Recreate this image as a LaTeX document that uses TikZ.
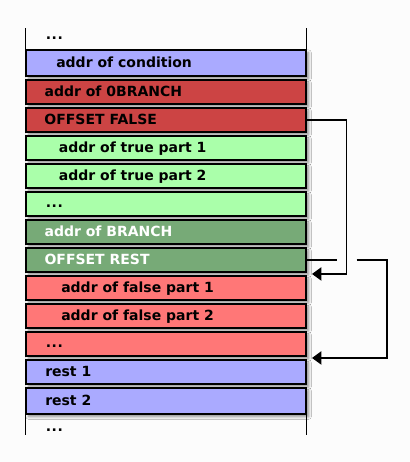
\documentclass[tikz,border=0pt]{standalone}
\usepackage{fontspec}
\setmainfont{DejaVu Sans}
\usetikzlibrary{arrows.meta,calc,shadows.blur}
\definecolor{cblue}{HTML}{AAAAFF}
\definecolor{cred}{HTML}{CC4444}
\definecolor{clgreen}{HTML}{AAFFAA}
\definecolor{cdgreen}{HTML}{77AA77}
\definecolor{cpink}{HTML}{FF7777}
\definecolor{bgcol}{HTML}{FCFCFC}
\newcommand{\mydots}{.\kern0.5pt.\kern0.5pt.}
\begin{document}
\begin{tikzpicture}[x=0.75pt,y=-0.75pt,
  cellbox/.style={draw=black, line width=1pt, anchor=north west, inner sep=0pt,
    minimum width=210pt, minimum height=18pt,
    blur shadow={shadow xshift=2pt, shadow yshift=-2pt, shadow blur radius=2pt, shadow blur steps=6, shadow opacity=45}},
  tallbox/.style={cellbox, minimum height=19.5pt},
  lbl/.style={anchor=base west, inner sep=0pt, font=\fontsize{10.5pt}{12pt}\bfseries},
  wlbl/.style={lbl, text=white},
  sideline/.style={line width=0.9pt},
  conn/.style={line width=0.8pt},
  tip/.style={-{Triangle[length=7pt,width=10pt]}}]
\fill[bgcol] (0,0) rectangle (410,462);
\useasboundingbox (0,0) rectangle (410,462);
% boxes
\node[tallbox, fill=cblue] (cond) at (25.3,49.3) {};
\node[cellbox, fill=cred] (b0) at (25.3,79.3) {};
\node[cellbox, fill=cred] (ofalse) at (25.3,107.3) {};
\node[cellbox, fill=clgreen] (t1) at (25.3,135.3) {};
\node[cellbox, fill=clgreen] (t2) at (25.3,163.3) {};
\node[cellbox, fill=clgreen] (tdots) at (25.3,191.3) {};
\node[cellbox, fill=cdgreen] (br) at (25.3,219.3) {};
\node[cellbox, fill=cdgreen] (orest) at (25.3,247.3) {};
\node[cellbox, fill=cpink] (f1) at (25.3,275.3) {};
\node[cellbox, fill=cpink] (f2) at (25.3,303.3) {};
\node[cellbox, fill=cpink] (fdots) at (25.3,331.3) {};
\node[cellbox, fill=cblue] (r1) at (25.3,359.3) {};
\node[tallbox, fill=cblue] (r2) at (25.3,387.3) {};
% open cells
\draw[sideline] (cond.north west) -- ++(0,-21);
\draw[sideline] (cond.north east) -- ++(0,-21);
\draw[sideline] (r2.south west) -- ++(0,20);
\draw[sideline] (r2.south east) -- ++(0,20);
% labels
\node[lbl] (ttop) at (45.5,39.5) {\mydots};
\node[lbl] (tcond) at (56,67.6) {addr of condition};
\node[lbl] (tb0) at (44.3,96.4) {addr of 0BRANCH};
\node[lbl] (tofalse) at (44.2,124.4) {OFFSET FALSE};
\node[lbl] (tt1) at (58.6,152.4) {addr of true part 1};
\node[lbl] (tt2) at (58.6,180.4) {addr of true part 2};
\node[lbl] (ttdots) at (45.5,207.4) {\mydots};
\node[wlbl] (tbr) at (44.3,236.4) {addr of BRANCH};
\node[wlbl] (torest) at (44.3,264.4) {OFFSET REST};
\node[lbl] (tf1) at (61,292.4) {addr of false part 1};
\node[lbl] (tf2) at (61,320.4) {addr of false part 2};
\node[lbl] (tfdots) at (45.5,347.4) {\mydots};
\node[lbl] (tr1) at (45,376.4) {rest 1};
\node[lbl] (tr2) at (45,405) {rest 2};
\node[lbl] (tbot) at (45.5,431.5) {\mydots};
% connectors
\coordinate (tgtA) at ($(orest.south east)!0.5!(f1.north east)+(5.4,0)$);
\coordinate (tgtB) at ($(fdots.south east)!0.5!(r1.north east)+(5.4,0)$);
\coordinate (gapL) at ($(orest.east)+(30.4,0)$);
\coordinate (gapR) at ($(orest.east)+(50,0)$);
\draw[conn, tip] (ofalse.east) -- ++(40,0) |- (tgtA);
\draw[conn] (orest.east) -- (gapL);
\draw[conn, tip] (gapR) -- ++(30.4,0) |- (tgtB);
\end{tikzpicture}
\end{document}
